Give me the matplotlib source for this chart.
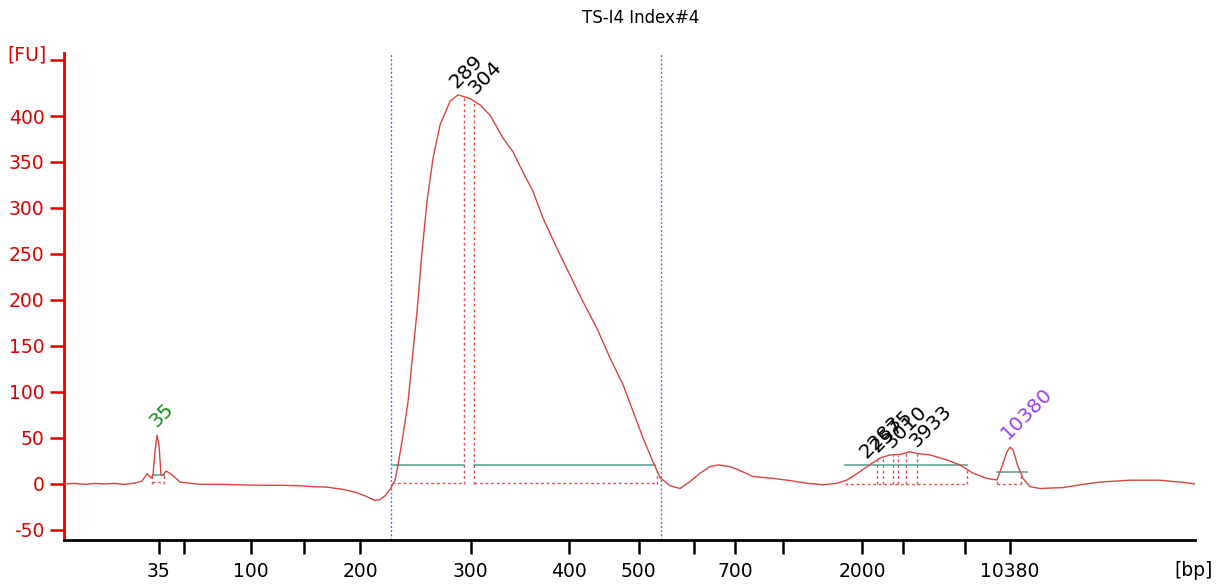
import matplotlib
matplotlib.use("Agg")
import matplotlib.pyplot as plt
import numpy as np

# ---- data ----
title = "TS-I4 Index#4"

# ladder sizes and their positions along the migration axis
ladder_bp = [35, 50, 100, 150, 200, 300, 400, 500, 600, 700, 1000, 2000, 3000, 7000, 10380]
ladder_pos = [158.5, 184, 250.5, 304, 360, 470.5, 569, 638.5, 694, 735, 783, 862, 903, 965, 1010]
ladder_labeled = [35, 100, 200, 300, 400, 500, 700, 2000, 10380]

# electropherogram trace
trace_pos = [64, 75, 85, 95, 105, 115, 125, 135, 142, 147, 151, 153, 155, 157, 159, 161, 163,
             166, 169, 173, 180, 200, 220, 240, 260, 280, 300, 313, 327, 343, 355, 365, 375,
             380, 385, 390, 395, 398, 403, 408, 413, 417, 422, 427, 433, 440, 450, 458, 464,
             470, 480, 490, 503, 513, 523, 533, 543, 557, 570, 583, 597, 610, 623, 633, 643,
             653, 660, 670, 680, 690, 700, 710, 718, 730, 740, 753, 773, 790, 807, 823, 837,
             847, 860, 872, 880, 890, 900, 910, 917, 930, 947, 960, 973, 987, 997, 1002, 1007,
             1010, 1013, 1018, 1023, 1030, 1040, 1063, 1080, 1100, 1130, 1160, 1180, 1195]
trace_fu = [0, 0.5, -0.5, 0.5, 0, 0.5, -0.5, 1, 3, 11, 6.5, 10, 35, 53, 42, 10, 9,
            14, 12, 9, 2, -0.5, -0.5, -1, -1.5, -1.5, -2, -3, -3.5, -6, -9, -13, -18,
            -17, -13, -6, 4, 20, 53, 89, 144, 187, 252, 307, 354, 390, 416, 423, 421,
            419, 412, 401, 376, 361, 339, 318, 289, 256, 227, 198, 169, 137, 108, 79, 50,
            24, 7, -2, -5, 2.5, 11.6, 18.8, 20.6, 18.8, 14.5, 8, 6, 3.6, 0.7, -1, 0.7,
            4.3, 13.4, 22.5, 28, 31.5, 32, 35, 33, 31.5, 26, 20.6, 11.6, 6, 4.3, 19, 35,
            40, 37, 19, 6, -3, -5, -4, -1, 2, 4, 4, 2, 0]

# region (smear) boundaries shown as dotted blue lines
region_bounds = [390.5, 661]

# peak labels: text, label centre (position, FU), colour
peak_labels = ["35", "289", "304", "2283", "2575", "3010", "3933", "10380"]
peak_label_pos = [161.5, 466, 485, 881, 892, 906, 931, 1027]
peak_label_fu = [75, 448, 442, 51, 57, 62, 63, 77]
peak_label_colors = ["#1a8c1a", "black", "black", "black", "black", "black", "black", "#9b40f0"]

# peak integration windows: baseline segments, boundary lines and teal height lines
window_segments = [(152, 164), (392, 464), (474, 657), (845, 967), (997, 1021)]
window_base_fu = [2, 1, 1, 0, 0]
boundary_pos = [152, 164, 464, 474, 657, 877, 883, 893, 898, 906, 917, 967, 997, 1021]
teal_segments = [(153, 164), (393, 464), (474, 655), (845, 967), (997, 1027)]
teal_fu = [10, 21, 21, 21, 13]

# ---- figure ----
plt.rcParams['font.family'] = ['DejaVu Sans']
W, H = 1216, 585
fig = plt.figure(figsize=(W / 100, H / 100), dpi=100)
ax = fig.add_axes([64 / W, 1 - 540 / H, (1195 - 64) / W, (540 - 53) / H])

red_axis = "#e00000"
trace_col = "#d9443c"
dash_col = "#e05050"
teal = "#5fa598"

tp = np.array(trace_pos, float)
tf = np.array(trace_fu, float)

ax.plot(tp, tf, color=trace_col, lw=1.0, zorder=3)

for xb in region_bounds:
    ax.axvline(xb, color="#6a6ad8", lw=1.0, ls=(0, (1.5, 1.5)), zorder=2)

for (x0, x1), b in zip(window_segments, window_base_fu):
    ax.plot([x0, x1], [b, b], color=dash_col, lw=1.0, ls=(0, (2, 2)), zorder=2)

for xb in boundary_pos:
    top = np.interp(xb, tp, tf)
    ax.plot([xb, xb], [0, top], color=dash_col, lw=1.0, ls=(0, (2, 2)), zorder=2)

for (x0, x1), h in zip(teal_segments, teal_fu):
    ax.plot([x0, x1], [h, h], color=teal, lw=1.2, zorder=2)

for t, x, y, c in zip(peak_labels, peak_label_pos, peak_label_fu, peak_label_colors):
    ax.text(x, y, t, rotation=45, ha="center", va="center", color=c, fontsize=14.5,
            rotation_mode="anchor", zorder=4)

ax.set_xlim(64, 1195)
ax.set_ylim(-61, 468.5)

yt = list(range(-50, 401, 50)) + [461]
ax.set_yticks(yt)
ax.set_yticklabels([str(v) for v in range(-50, 401, 50)] + [""])
ax.set_xticks(ladder_pos)
ax.set_xticklabels([str(b) if b in ladder_labeled else "" for b in ladder_bp])

ax.tick_params(axis="y", colors=red_axis, labelcolor=red_axis, length=10, width=1.8,
               direction="out", labelsize=13.5, pad=4)
ax.tick_params(axis="x", colors="black", length=10, width=1.8, direction="out",
               labelsize=13.5, pad=6)

for s in ["top", "right"]:
    ax.spines[s].set_visible(False)
ax.spines["left"].set_color(red_axis)
ax.spines["left"].set_linewidth(2)
ax.spines["bottom"].set_color("black")
ax.spines["bottom"].set_linewidth(2)

fig.text(47 / W, 1 - 55 / H, "[FU]", ha="right", va="center", fontsize=13.5, color=red_axis)
fig.text(641 / W, 1 - 18 / H, title, ha="center", va="center", fontsize=12)
fig.text(1213 / W, 1 - 571 / H, "[bp]", ha="right", va="center", fontsize=13.5)

fig.savefig("out.png", dpi=100)
